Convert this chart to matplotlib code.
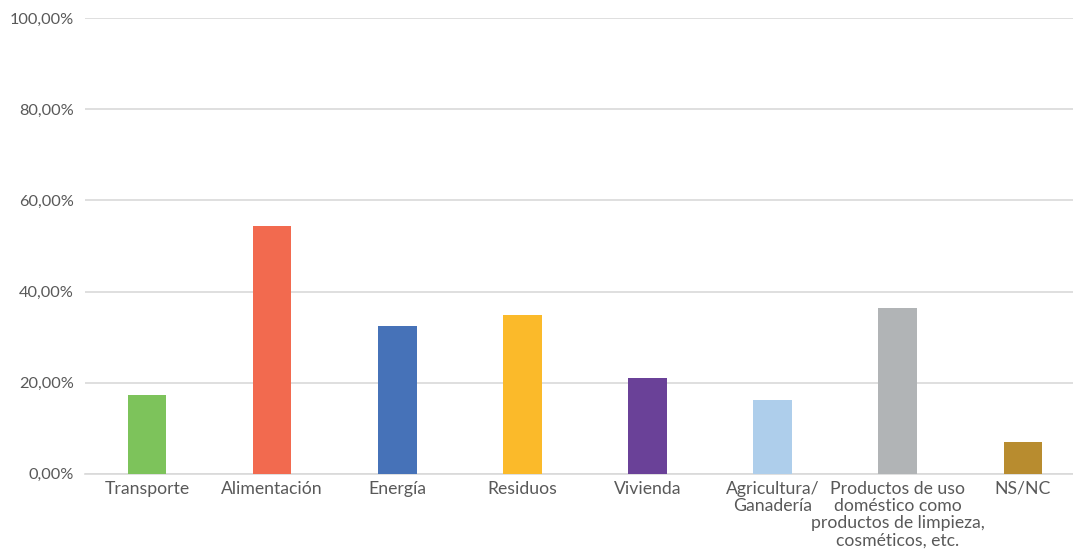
import matplotlib.pyplot as plt
from matplotlib.ticker import FuncFormatter

# survey shares per category (%)
categories = ["Transporte", "Alimentación", "Energía", "Residuos", "Vivienda",
              "Agricultura/\nGanadería",
              "Productos de uso\ndoméstico como\nproductos de limpieza,\ncosméticos, etc.",
              "NS/NC"]
values = [17.3, 54.4, 32.4, 34.8, 21.0, 16.2, 36.4, 7.0]
colors = ["#7DC35B", "#F26A4F", "#4672B8", "#FBBA2A", "#6A4198",
          "#AECEEB", "#B1B4B6", "#B88C2F"]
yticks = [0, 20, 40, 60, 80, 100]

plt.rcParams['font.family'] = ['Lato', 'DejaVu Sans']

fig = plt.figure(figsize=(10.73, 5.5), dpi=100)
ax = fig.add_axes([85 / 1073, 1 - 473.7 / 550, 1 - 85 / 1073, (473.7 - 18.3) / 550])

x = list(range(len(categories)))
ax.bar(x, values, width=0.31, color=colors, zorder=3)

ax.set_xlim(-0.495, 7.4)
ax.set_ylim(0, 100)
ax.set_yticks(yticks)
ax.yaxis.set_major_formatter(FuncFormatter(lambda v, p: f"{v:.2f}%".replace(".", ",")))
ax.set_xticks(x)
ax.set_xticklabels(categories, linespacing=1.1)

ax.grid(axis='y', color='#D9D9D9', linewidth=1.2, zorder=0)
for s in ['top', 'right', 'left']:
    ax.spines[s].set_visible(False)
ax.spines['bottom'].set_color('#D9D9D9')
ax.spines['bottom'].set_linewidth(1.2)
ax.tick_params(axis='both', length=0, colors='#595959')
ax.tick_params(axis='y', pad=8, labelsize=11.8)
ax.tick_params(axis='x', pad=5, labelsize=12.7)

fig.savefig("out.png", dpi=100)
